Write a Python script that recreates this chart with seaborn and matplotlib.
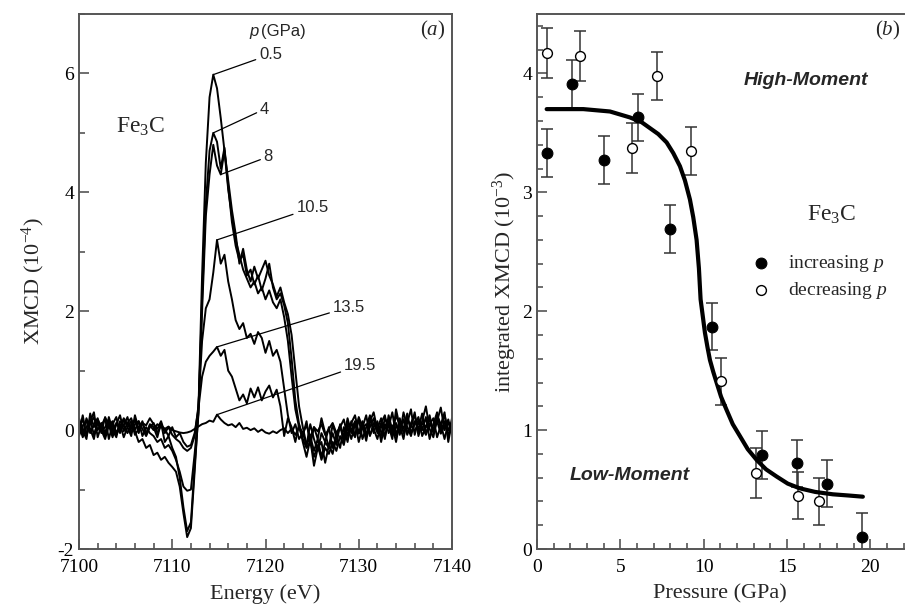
import numpy as np
import pandas as pd
import matplotlib
matplotlib.use('Agg')
import matplotlib.pyplot as plt
import seaborn as sns
from matplotlib.ticker import MultipleLocator

sns.set_style('ticks')
plt.rcParams['font.family'] = ['Liberation Serif', 'DejaVu Serif']
plt.rcParams['mathtext.fontset'] = 'custom'
plt.rcParams['mathtext.rm'] = 'Liberation Serif'
plt.rcParams['mathtext.it'] = 'Liberation Serif:italic'
plt.rcParams['axes.unicode_minus'] = False

# ---- panel (a): XMCD spectra, 0.4 eV steps from 7100 to 7140 eV ----
pressures = ['0.5', '4', '8', '10.5', '13.5', '19.5']

c05 = [0.12, -0.08, 0.20, 0.02, -0.15, 0.18, 0.05, -0.10, 0.22, 0.00,
       -0.12, 0.15, 0.08, -0.05, 0.10, -0.02, -0.20, -0.15, -0.30, -0.25,
       -0.42, -0.38, -0.50, -0.45, -0.55, -0.62, -0.70, -0.95, -1.40, -1.80,
       -1.65, -0.70, 0.30, 2.60, 4.50, 5.60, 5.98, 5.75, 5.25, 4.70,
       4.05, 3.60, 3.20, 2.95, 2.70, 2.55, 2.40, 2.50, 2.30, 2.40,
       2.20, 2.35, 2.15, 2.05, 2.20, 1.90, 1.50, 0.90, 0.35, 0.05,
       -0.15, -0.30, -0.20, -0.45, -0.25, -0.50, -0.30, -0.40, -0.20, -0.35,
       -0.10, -0.25, 0.05, -0.15, 0.10, -0.05, 0.15, -0.10, 0.05, 0.20,
       -0.05, 0.10, -0.15, 0.25, 0.00, 0.12, -0.08, 0.30, 0.05, -0.10,
       0.15, 0.02, 0.28, -0.05, 0.10, 0.20, -0.12, 0.08, 0.25, 0.00, 0.10]

c4 = [-0.05, 0.25, -0.10, 0.15, 0.30, -0.12, 0.08, 0.20, -0.15, 0.10,
      0.22, -0.05, 0.18, 0.05, -0.10, 0.25, 0.02, 0.15, -0.08, 0.10,
      0.05, -0.12, 0.12, -0.20, -0.10, -0.30, -0.45, -0.80, -1.30, -1.70,
      -1.55, -0.60, 0.25, 2.20, 3.80, 4.70, 5.00, 4.85, 4.40, 4.75,
      4.10, 3.50, 3.10, 2.85, 2.95, 2.60, 2.70, 2.45, 2.60, 2.35,
      2.55, 2.80, 2.40, 2.20, 2.30, 2.10, 1.80, 1.20, 0.50, 0.10,
      -0.20, -0.45, -0.15, -0.60, -0.30, -0.20, -0.55, -0.25, -0.40, -0.10,
      -0.30, 0.05, -0.20, 0.15, -0.10, 0.20, -0.15, 0.05, 0.25, -0.05,
      0.15, -0.20, 0.10, 0.05, 0.30, -0.10, 0.20, -0.05, 0.12, 0.35,
      -0.08, 0.18, 0.00, 0.22, -0.15, 0.10, 0.30, -0.02, 0.15, -0.10, 0.20]

c8 = [0.20, 0.00, -0.15, 0.28, 0.05, 0.15, -0.05, 0.22, 0.08, -0.12,
      0.10, 0.25, -0.02, 0.12, 0.20, 0.00, 0.15, -0.10, 0.05, -0.05,
      -0.10, -0.20, -0.15, -0.30, -0.25, -0.35, -0.50, -0.70, -0.95, -1.02,
      -1.00, -0.40, 0.30, 2.00, 3.60, 4.30, 4.80, 4.45, 4.30, 4.70,
      4.20, 3.70, 3.30, 2.80, 3.05, 2.70, 2.50, 2.75, 2.55, 2.70,
      2.85, 2.60, 2.45, 2.25, 2.40, 2.15, 1.95, 1.60, 1.00, 0.40,
      0.05, -0.25, -0.10, -0.35, -0.15, -0.45, -0.20, -0.30, -0.05, -0.25,
      0.10, -0.15, 0.20, -0.05, 0.15, -0.20, 0.05, 0.25, -0.10, 0.12,
      0.02, 0.20, -0.12, 0.15, -0.05, 0.25, 0.08, -0.15, 0.20, 0.05,
      0.30, -0.10, 0.12, 0.05, 0.25, -0.05, 0.15, 0.38, 0.00, 0.18, -0.08]

c105 = [0.05, 0.18, -0.08, 0.10, 0.22, 0.00, 0.12, -0.05, 0.15, 0.08,
        -0.08, 0.05, 0.20, 0.10, 0.02, 0.18, -0.05, 0.12, 0.08, 0.20,
        0.10, 0.02, 0.15, -0.05, 0.05, -0.08, -0.15, -0.20, -0.30, -0.35,
        -0.30, -0.10, 0.40, 1.50, 2.05, 2.20, 2.65, 3.20, 2.80, 2.95,
        2.50, 2.20, 1.85, 1.70, 1.80, 1.55, 1.62, 1.45, 1.65, 1.55,
        1.30, 1.50, 1.25, 1.35, 1.15, 0.70, 0.25, -0.05, 0.10, -0.15,
        -0.05, -0.25, 0.10, -0.15, -0.35, -0.05, -0.20, 0.05, -0.30, -0.10,
        0.08, -0.20, 0.15, 0.00, -0.12, 0.22, 0.05, -0.08, 0.18, 0.02,
        -0.15, 0.12, 0.25, -0.05, 0.08, -0.20, 0.15, 0.02, 0.28, -0.05,
        0.10, 0.22, -0.10, 0.05, 0.18, -0.02, 0.25, 0.10, -0.15, 0.12, 0.05]

c135 = [-0.10, 0.08, 0.15, -0.05, 0.10, 0.20, -0.02, 0.05, 0.18, -0.08,
        0.12, 0.00, 0.08, 0.22, -0.05, 0.10, 0.15, 0.02, -0.10, 0.05,
        0.12, -0.05, 0.08, 0.02, -0.10, 0.05, -0.12, -0.05, -0.20, -0.28,
        -0.25, -0.05, 0.35, 0.90, 1.15, 1.25, 1.32, 1.40, 1.25, 1.35,
        1.00, 0.90, 0.70, 0.50, 0.60, 0.45, 0.70, 0.55, 0.72, 0.50,
        0.65, 0.75, 0.55, 0.68, 0.40, -0.10, 0.20, 0.05, -0.20, 0.10,
        -0.10, 0.15, -0.25, 0.05, -0.15, 0.20, -0.05, -0.30, 0.10, -0.12,
        0.05, 0.18, -0.10, 0.12, 0.25, -0.05, 0.08, -0.18, 0.15, 0.30,
        0.00, -0.10, 0.20, 0.08, -0.15, 0.35, 0.05, 0.18, -0.08, 0.12,
        0.25, -0.05, 0.15, 0.40, 0.02, -0.12, 0.20, 0.08, 0.30, -0.20, 0.15]

c195 = [0.10, -0.12, 0.05, 0.18, -0.08, 0.12, 0.00, -0.15, 0.08, 0.15,
        -0.05, 0.10, -0.12, 0.05, 0.15, -0.08, 0.02, 0.12, -0.05, 0.08,
        0.00, 0.10, 0.05, 0.02, 0.06, 0.00, -0.02, -0.04, -0.05, -0.04,
        -0.02, 0.02, 0.06, 0.10, 0.12, 0.16, 0.14, 0.26, 0.18, 0.12,
        0.08, 0.10, 0.05, 0.12, 0.02, 0.04, 0.00, 0.03, -0.03, 0.01,
        -0.04, -0.06, -0.02, -0.05, 0.00, 0.03, -0.05, 0.02, -0.08, 0.05,
        -0.05, 0.08, -0.12, 0.05, -0.02, 0.10, -0.08, 0.02, 0.12, -0.05,
        0.06, -0.10, 0.08, 0.00, 0.14, -0.06, 0.04, 0.10, -0.08, 0.05,
        0.12, -0.04, 0.02, 0.15, -0.10, 0.06, 0.00, 0.18, -0.05, 0.08,
        -0.02, 0.12, 0.05, -0.08, 0.10, 0.02, 0.15, -0.06, 0.08, 0.00, 0.10]

spectra = [c05, c4, c8, c105, c135, c195]
# energy where each label's leader line touches its curve
anchor_e = [7114.4, 7114.4, 7115.2, 7114.8, 7114.8, 7114.8]

# ---- panel (b): integrated XMCD vs pressure ----
inc_p = [0.58, 2.08, 4.02, 6.04, 7.98, 10.52, 13.48, 15.58, 17.38, 19.48]
inc_v = [3.33, 3.91, 3.27, 3.63, 2.69, 1.87, 0.79, 0.72, 0.55, 0.10]
inc_err = [0.20, 0.20, 0.20, 0.20, 0.20, 0.20, 0.20, 0.20, 0.20, 0.20]

dec_p = [0.58, 2.58, 5.72, 7.18, 9.22, 11.02, 13.14, 15.68, 16.94]
dec_v = [4.17, 4.15, 3.37, 3.98, 3.35, 1.41, 0.64, 0.45, 0.40]
dec_err = [0.21, 0.21, 0.21, 0.20, 0.20, 0.20, 0.21, 0.20, 0.20]

fit_p = [0.58, 2.78, 4.38, 5.58, 6.28, 6.78, 7.28, 7.78, 8.18, 8.58,
         8.88, 9.18, 9.38, 9.58, 9.72, 9.82, 9.95, 10.08, 10.23, 10.38,
         10.58, 10.78, 11.05, 11.38, 11.75, 12.18, 12.65, 13.18, 13.75,
         14.38, 15.05, 15.78, 16.70, 17.76, 18.70, 19.56]
fit_v = [3.70, 3.70, 3.68, 3.63, 3.59, 3.54, 3.49, 3.42, 3.33, 3.22,
         3.10, 2.94, 2.79, 2.60, 2.36, 2.10, 1.96, 1.82, 1.70, 1.59,
         1.49, 1.40, 1.28, 1.17, 1.05, 0.95, 0.84, 0.75, 0.67,
         0.61, 0.55, 0.51, 0.48, 0.46, 0.45, 0.44]

energy = np.linspace(7100, 7140, len(c05))
spec_df = pd.concat([pd.DataFrame({'energy': energy, 'xmcd': s, 'p': lab})
                     for s, lab in zip(spectra, pressures)])

fig = plt.figure(figsize=(9.05, 6.11), dpi=100)
ax1 = fig.add_axes([79 / 905, 1 - 549 / 611, 373 / 905, 535 / 611])
ax2 = fig.add_axes([537 / 905, 1 - 549 / 611, 366.5 / 905, 535 / 611])

spine_c = '#555555'
for ax in (ax1, ax2):
    for s in ax.spines.values():
        s.set_color(spine_c)
        s.set_linewidth(1.4)
        s.set_visible(True)
    ax.tick_params(which='both', direction='in', colors=spine_c,
                   labelcolor='black', labelsize=14, width=1.2)
    ax.tick_params(which='major', length=7)
    ax.tick_params(which='minor', length=4)
    ax.tick_params(axis='x', pad=7)
ax2.spines['right'].set_visible(False)

sns.lineplot(data=spec_df, x='energy', y='xmcd', units='p', estimator=None,
             color='black', lw=1.4, ax=ax1, legend=False)
ax1.set_xlim(7100, 7140)
ax1.set_ylim(-2, 7)
ax1.xaxis.set_major_locator(MultipleLocator(10))
ax1.xaxis.set_minor_locator(MultipleLocator(2))
ax1.yaxis.set_major_locator(MultipleLocator(2))
ax1.yaxis.set_minor_locator(MultipleLocator(1))
ax1.set_xlabel('Energy (eV)', fontsize=16, labelpad=6)
ax1.set_ylabel('XMCD (10$^{-4}$)', fontsize=16, labelpad=8)

label_xy = [(7119.3, 6.32), (7119.4, 5.40), (7119.8, 4.60),
            (7123.3, 3.74), (7127.2, 2.07), (7128.4, 1.09)]
for lab, s, ea, (tx, ty) in zip(pressures, spectra, anchor_e, label_xy):
    ya = np.interp(ea, energy, s)
    ax1.annotate(lab, xy=(ea, ya), xytext=(tx, ty), fontsize=12,
                 family='Liberation Sans', ha='left', va='center',
                 arrowprops=dict(arrowstyle='-', lw=0.9, color='black',
                                 shrinkA=0, shrinkB=0))
ax1.text(7119.3, 6.70, 'p', fontsize=12, family='Liberation Sans',
         style='italic', ha='right', va='center')
ax1.text(7119.5, 6.70, '(GPa)', fontsize=12, family='Liberation Sans',
         ha='left', va='center')
ax1.text(7106.6, 5.10, 'Fe$_3$C', fontsize=17, ha='center', va='center')
ax1.text(7137.9, 6.72, '($\\it{a}$)', fontsize=15, ha='center', va='center')

# panel (b)
ax2.errorbar(inc_p, inc_v, yerr=inc_err, fmt='none', ecolor='#333333',
             elinewidth=1.1, capsize=4, capthick=1.1, zorder=2)
ax2.errorbar(dec_p, dec_v, yerr=dec_err, fmt='none', ecolor='#333333',
             elinewidth=1.1, capsize=4, capthick=1.1, zorder=2)
sns.lineplot(x=fit_p, y=fit_v, color='black', lw=3, ax=ax2, sort=False,
             zorder=3)
sns.scatterplot(x=inc_p, y=inc_v, ax=ax2, color='black', s=60,
                edgecolor='black', linewidth=0.8, zorder=4,
                label='increasing $p$')
sns.scatterplot(x=dec_p, y=dec_v, ax=ax2, color='white', s=50,
                edgecolor='black', linewidth=1.0, zorder=4,
                label='decreasing $p$')
ax2.set_xlim(0, 22)
ax2.set_ylim(0, 4.5)
ax2.xaxis.set_major_locator(MultipleLocator(5))
ax2.xaxis.set_minor_locator(MultipleLocator(1))
ax2.yaxis.set_major_locator(MultipleLocator(1))
ax2.yaxis.set_minor_locator(MultipleLocator(0.2))
ax2.set_xlabel('Pressure (GPa)', fontsize=16, labelpad=6)
ax2.set_ylabel('integrated XMCD (10$^{-3}$)', fontsize=16, labelpad=2)

ax2.legend(loc='upper left', bbox_to_anchor=(0.58, 0.553), frameon=False,
           fontsize=14, handletextpad=0.8, borderpad=0, borderaxespad=0,
           labelspacing=0.3, handlelength=1.2)
ax2.text(16.14, 3.94, 'High-Moment', fontsize=14, family='Liberation Sans',
         weight='bold', style='italic', ha='center', va='center')
ax2.text(5.58, 0.615, 'Low-Moment', fontsize=14, family='Liberation Sans',
         weight='bold', style='italic', ha='center', va='center')
ax2.text(17.7, 2.81, 'Fe$_3$C', fontsize=17, ha='center', va='center')
ax2.text(21.06, 4.36, '($\\it{b}$)', fontsize=15, ha='center', va='center')

fig.savefig('out.png', dpi=100)
